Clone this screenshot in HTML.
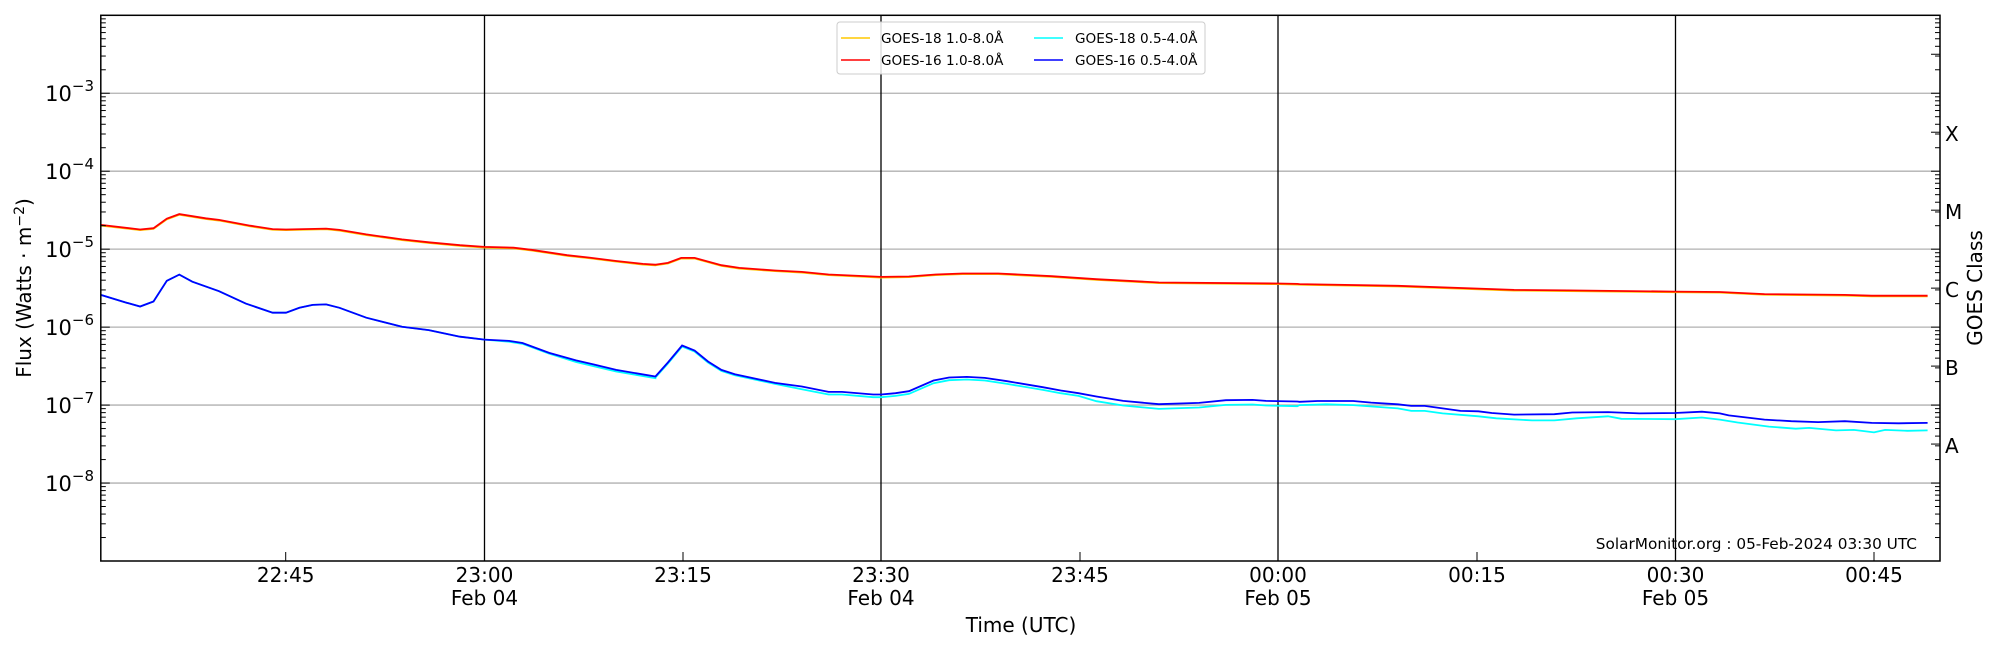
<!DOCTYPE html>
<html><head><meta charset="utf-8"><style>
html,body{margin:0;padding:0;background:#fff;}
svg{display:block;font-family:"DejaVu Sans","Liberation Sans",sans-serif;}
</style></head><body>
<svg id="s" width="2000" height="650" viewBox="0 0 2000 650" xmlns="http://www.w3.org/2000/svg">
<rect width="2000" height="650" fill="#fff"/>
<g id="grid"></g>
<g id="data"></g>
<rect x="100.8" y="15.3" width="1839.2" height="545.7" fill="none" stroke="#000" stroke-width="1.5"/>
<g id="ticks"></g>
<g font-size="20" fill="#000" text-anchor="middle">
<text x="285.7" y="582">22:45</text>
<text x="484.5" y="582">23:00</text><text x="484.5" y="605">Feb 04</text>
<text x="683" y="582">23:15</text>
<text x="881" y="582">23:30</text><text x="881" y="605">Feb 04</text>
<text x="1080" y="582">23:45</text>
<text x="1278" y="582">00:00</text><text x="1278" y="605">Feb 05</text>
<text x="1477" y="582">00:15</text>
<text x="1675.5" y="582">00:30</text><text x="1675.5" y="605">Feb 05</text>
<text x="1874" y="582">00:45</text>
<text x="1021" y="632">Time (UTC)</text>
</g>
<text transform="translate(31,288) rotate(-90)" font-size="20" text-anchor="middle">Flux (Watts · m<tspan dy="-7" font-size="14">−2</tspan><tspan dy="7">)</tspan></text>
<text transform="translate(1982,288) rotate(-90)" font-size="20" text-anchor="middle">GOES Class</text>
<g id="ylab" font-size="21"></g>
<g font-size="20">
<text x="1945" y="141">X</text><text x="1945" y="219">M</text><text x="1945" y="297">C</text><text x="1945" y="375">B</text><text x="1945" y="453">A</text>
</g>
<text x="1917" y="549" font-size="15.3" text-anchor="end">SolarMonitor.org : 05-Feb-2024 03:30 UTC</text>
<g>
<rect x="837" y="22" width="368" height="52" rx="3" fill="#fff" fill-opacity="0.85" stroke="#ccc"/>
<line x1="841" y1="38" x2="870" y2="38" stroke="#ffc800" stroke-width="1.5"/>
<line x1="841" y1="60" x2="870" y2="60" stroke="#ff0000" stroke-width="1.5"/>
<line x1="1034" y1="38" x2="1063" y2="38" stroke="#00ffff" stroke-width="1.5"/>
<line x1="1034" y1="60" x2="1063" y2="60" stroke="#0000ff" stroke-width="1.5"/>
<g font-size="13.6"><text x="881" y="43">GOES-18 1.0-8.0Å</text><text x="881" y="65">GOES-16 1.0-8.0Å</text>
<text x="1075" y="43">GOES-18 0.5-4.0Å</text><text x="1075" y="65">GOES-16 0.5-4.0Å</text></g>
</g>
</svg>
<script>
var NS="http://www.w3.org/2000/svg";
function el(p,t,a){var e=document.createElementNS(NS,t);for(var k in a)e.setAttribute(k,a[k]);p.appendChild(e);return e;}
var L=100.8,R=1940,T=15.3,B=561,D=77.96;
function Y(lg){return B-(lg+9)*D;}
var g=document.getElementById('grid'),tk=document.getElementById('ticks'),yl=document.getElementById('ylab');
for(var d=-8;d<=-3;d++){el(g,'line',{x1:L,x2:R,y1:Y(d),y2:Y(d),stroke:'#b0b0b0','stroke-width':1.3});
 var t=el(yl,'text',{x:94,y:Y(d)+8,'text-anchor':'end'});t.textContent='10';var s=el(t,'tspan',{dy:-10,'font-size':15});s.textContent='−'+(-d);}
[484.5,881,1278,1675.5].forEach(function(x){el(g,'line',{x1:x,x2:x,y1:T,y2:B,stroke:'#000','stroke-width':1.3});});
for(var d=-9;d<-2;d++){for(var m=1;m<10;m++){var y=Y(d+Math.log10(m));if(y<T)continue;var len=m==1?9:5;
 el(tk,'line',{x1:L,x2:L+len,y1:y,y2:y,stroke:'#000','stroke-width':1});el(tk,'line',{x1:R,x2:R-len,y1:y,y2:y,stroke:'#000','stroke-width':1});}}
for(var d=-8;d<=-3;d++){var y=Y(d+0.5);el(tk,'line',{x1:R,x2:R-9,y1:y,y2:y,stroke:'#000','stroke-width':1});}
[285.7,683,1080,1477,1874].forEach(function(x){el(tk,'line',{x1:x,x2:x,y1:B,y2:B-9,stroke:'#000','stroke-width':1});});
function z1(p){return [100.8+(p[0]-225)*0.4462,93.2+(p[1]-225)*0.4142];}
function z2(p){return [1675.5+(p[0]-841)*0.447,93.2+(p[1]-225)*0.4142];}
function z3(p){return [650+p[0]*0.4464,249.2+(p[1]-148)/3];}
var red1=[[225,543],[313,554],[343,551],[373,528],[401,517],[460,527],[490,531],[560,545],[610,553],[640,554],[730,552],[760,555],[820,566],[900,578],[960,585],[1030,592],[1085,596],[1150,598],[1190,603],[1270,616],[1320,622],[1380,630],[1440,637],[1468,639]];
var red3=[[15,194],[40,189],[70,174],[100,174],[160,196],[200,204],[280,212],[340,216],[400,224],[518,231],[580,230],[640,224],[700,221],[780,221],[900,229],[1000,238],[1140,248],[1408,251],[1450,252]];
var red2=[[0,686],[220,690],[480,700],[600,701],[840,704],[940,705],[1040,710],[1220,712],[1280,714],[1405,714]];
var blu1=[[225,712],[280,730],[313,740],[343,728],[373,678],[401,663],[430,680],[490,703],[550,733],[610,755],[640,755],[670,743],[700,736],[730,735],[760,743],[820,767],[900,789],[960,797],[1030,813],[1085,820],[1140,823],[1170,828],[1230,852],[1290,870],[1330,880],[1380,893],[1468,909]];
var blu3=[[12,530],[40,488],[72,437],[100,452],[130,485],[160,510],[190,523],[280,549],[340,560],[400,576],[430,576],[500,584],[518,584],[550,580],[580,574],[635,542],[670,533],[710,531],[750,534],[800,544],[880,562],[920,572],[960,580],[1000,590],[1060,603],[1140,613],[1230,609],[1290,601],[1350,600],[1380,603],[1450,605]];
var blu2=[[0,970],[40,968],[120,968],[160,972],[220,976],[250,980],[280,980],[360,992],[400,993],[430,997],[480,1001],[570,1000],[610,996],[690,995],[760,998],[840,997],[900,994],[940,998],[960,1003],[1040,1013],[1100,1017],[1160,1019],[1220,1017],[1280,1021],[1340,1022],[1405,1021]];
var cya2=[[0,978],[60,976],[120,978],[220,986],[250,992],[280,992],[320,998],[400,1005],[440,1010],[520,1015],[570,1015],[620,1010],[690,1005],[720,1011],[840,1012],[900,1008],[940,1013],[980,1020],[1050,1030],[1110,1035],[1140,1033],[1200,1039],[1240,1038],[1285,1044],[1310,1038],[1360,1040],[1405,1039]];
function off1(p){var o=p[0]>1250?4:(p[0]>1100?2:0);return [p[0],p[1]+o];}
function off3(p){var o=p[0]<300?3:(p[0]<1000?8:14);return [p[0],p[1]+o];}
function pts(a){return a.map(function(p){return p[0].toFixed(1)+','+p[1].toFixed(1);}).join(' ');}
var redP=red1.map(z1).concat(red3.map(z3),red2.map(z2));
var bluP=blu1.map(z1).concat(blu3.map(z3),blu2.map(z2));
var cyaP=blu1.map(off1).map(z1).concat(blu3.map(off3).map(z3),cya2.map(z2));
var dg=document.getElementById('data');
el(dg,'polyline',{points:pts(redP.map(function(p){return [p[0],p[1]+0.8];})),fill:'none',stroke:'#ffc800','stroke-width':1.5});
el(dg,'polyline',{points:pts(cyaP),fill:'none',stroke:'#00ffff','stroke-width':1.8});
el(dg,'polyline',{points:pts(redP),fill:'none',stroke:'#ff0000','stroke-width':1.8});
el(dg,'polyline',{points:pts(bluP),fill:'none',stroke:'#0000ff','stroke-width':1.8});
</script>
</body></html>
